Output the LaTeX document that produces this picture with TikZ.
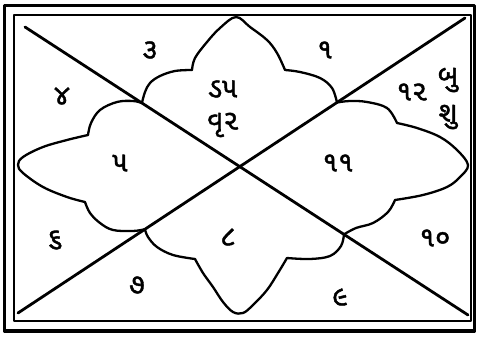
\documentclass[tikz,border=0pt]{standalone}
\usepackage{fontspec}
\newfontfamily\guj[Script=Gujarati,FakeBold=1.5]{Noto Sans Gujarati UI}
\usetikzlibrary{calc}
\begin{document}
\begin{tikzpicture}[x=1pt,y=-1pt,line join=round,line cap=round]
\tikzset{
  frameout/.style={line width=3.5pt},
  framein/.style={line width=2.2pt},
  diag/.style={line width=2.8pt},
  lobe/.style={line width=2.3pt},
  lbl/.style={font=\guj\fontsize{28}{32}\selectfont,inner sep=0pt}
}
\useasboundingbox (0,0) rectangle (477,337);
\draw[frameout] (4.5,5.5) rectangle (474.5,331);
\draw[framein] (14,15) rectangle (471,321);
\coordinate (a1) at (25,27);
\coordinate (a2) at (468,315);
\coordinate (b1) at (18,313);
\coordinate (b2) at (465,18);
\draw[diag] (a1) -- (a2);
\draw[diag] (b1) -- (b2);
\coordinate (cul) at ($(a1)!0.264!(a2)$);
\coordinate (cur) at ($(b1)!0.7136!(b2)$);
\coordinate (clr) at ($(a1)!0.72!(a2)$);
\coordinate (cll) at ($(b1)!0.284!(b2)$);
% top lobe
\draw[lobe] plot[smooth,tension=0.6] coordinates {(cul) (145,92) (150,83) (160,76) (175,71) (192,70)};
\draw[lobe] plot[smooth,tension=0.6] coordinates {(192,70) (195,58) (207,42) (220,28) (236,17) (250,27) (267,40) (277,53) (285,70)};
\draw[lobe] plot[smooth,tension=0.6] coordinates {(285,70) (300,72) (320,78) (332,88) (cur)};
% right lobe
\draw[lobe] plot[smooth,tension=0.6] coordinates {(cur) (350,101) (367,102) (387,108) (397,123)};
\draw[lobe] plot[smooth,tension=0.6] coordinates {(397,123) (417,128) (440,137) (457,150) (468,165) (460,177) (447,187) (423,195) (395,200)};
\draw[lobe] plot[smooth,tension=0.6] coordinates {(395,200) (388,212) (373,223) (356,228) (clr)};
% bottom lobe
\draw[lobe] plot[smooth,tension=0.6] coordinates {(clr) (341,246) (330,256) (310,259) (287,258)};
\draw[lobe] plot[smooth,tension=0.6] coordinates {(287,258) (278,273) (267,290) (253,305) (243,313) (233,312) (223,302) (213,287) (203,273) (195,259)};
\draw[lobe] plot[smooth,tension=0.6] coordinates {(195,259) (173,255) (157,247) (148,237) (cll)};
% left lobe
\draw[lobe] plot[smooth,tension=0.6] coordinates {(cll) (133,231) (113,230) (100,223) (90,213) (85,202)};
\draw[lobe] plot[smooth,tension=0.6] coordinates {(85,202) (67,197) (43,187) (23,173) (18,165) (23,157) (43,147) (67,140) (88,135)};
\draw[lobe] plot[smooth,tension=0.6] coordinates {(88,135) (91,123) (100,110) (117,102) (133,101) (cul)};
% labels
\node[lbl] (h3) at (150,50) {૩};
\node[lbl] (h1) at (325,50) {૧};
\node[lbl] (h12) at (412,92) {૧૨};
\node[lbl] (pbu) at (448,80) {બુ};
\node[lbl] (pshu) at (448,117) {શુ};
\node[lbl] (h4) at (62,96) {૪};
\node[lbl] (h2a) at (223,89) {ડ૫};
\node[lbl] (h2b) at (223,125) {વૃ૨};
\node[lbl] (h5) at (120,163) {૫};
\node[lbl] (h11) at (338,163) {૧૧};
\node[lbl] (h6) at (55,240) {૬};
\node[lbl] (h8) at (228,237) {૮};
\node[lbl] (h10) at (435,238) {૧૦};
\node[lbl] (h7) at (137,285) {૭};
\node[lbl] (h9) at (340,297) {૯};
\end{tikzpicture}
\end{document}
